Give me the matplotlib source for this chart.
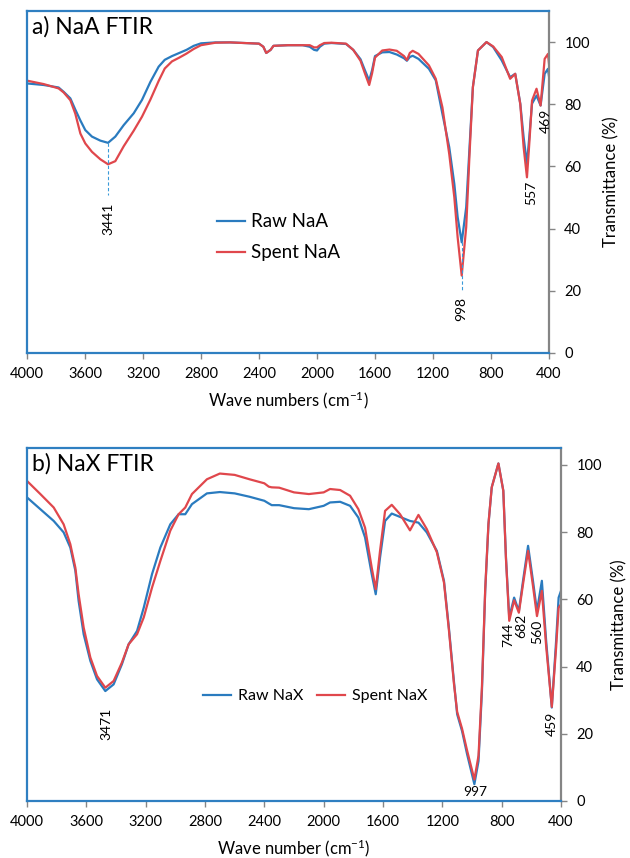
import matplotlib
matplotlib.use("Agg")
import matplotlib.pyplot as plt

plt.rcParams['font.family'] = ['Lato', 'DejaVu Sans']
plt.rcParams['mathtext.fontset'] = 'custom'
plt.rcParams['mathtext.rm'] = 'Lato'
plt.rcParams['mathtext.default'] = 'regular'

# ---- panel a : NaA ----
wn_a = [4000, 3885, 3782, 3747, 3701, 3667, 3632, 3598, 3552, 3494, 3441, 3391, 3333, 3264,
        3207, 3149, 3092, 3050, 3000, 2950, 2900, 2850, 2800, 2700, 2600, 2500, 2400, 2370,
        2350, 2320, 2300, 2200, 2100, 2050, 2020, 2000, 1980, 1950, 1900, 1800, 1750, 1700,
        1670, 1640, 1620, 1600, 1550, 1500, 1450, 1400, 1380, 1360, 1340, 1300, 1228, 1181,
        1135, 1088, 1053, 1030, 1002, 971, 948, 925, 890, 831, 785, 726, 668, 633, 598, 575,
        552, 535, 517, 486, 458, 430, 407, 400]
raw_a = [86.7, 86.2, 85.4, 84.0, 81.9, 78.3, 74.8, 71.7, 69.6, 68.3, 67.6, 69.6, 73.3, 77.1,
         81.4, 87.2, 92.1, 94.3, 95.5, 96.5, 97.5, 98.8, 99.6, 99.9, 99.9, 99.7, 99.5, 98.5,
         96.5, 97.5, 98.8, 99.0, 99.0, 98.5, 97.5, 97.3, 98.5, 99.5, 99.7, 99.4, 97.5, 94.5,
         91.0, 87.6, 91.0, 95.5, 96.7, 96.8, 96.0, 94.8, 94.0, 95.2, 95.6, 94.6, 91.4, 87.7,
         76.9, 66.2, 54.4, 43.7, 35.6, 46.9, 66.2, 85.5, 97.3, 100.0, 98.4, 94.1, 88.7, 89.8,
         80.2, 69.4, 60.8, 70.0, 80.2, 82.8, 79.6, 89.8, 91.4, 89.0]
spent_a = [87.6, 86.5, 85.1, 83.8, 81.3, 77.0, 70.6, 67.4, 64.7, 62.3, 60.7, 61.7, 66.5, 71.5,
           76.0, 81.5, 87.5, 91.5, 93.8, 95.0, 96.3, 97.8, 99.0, 99.8, 99.9, 99.7, 99.5, 98.5,
           96.5, 97.5, 98.8, 99.0, 99.0, 99.0, 98.3, 98.3, 99.0, 99.7, 99.8, 99.5, 97.5, 94.0,
           90.0, 86.2, 90.0, 95.0, 97.3, 97.6, 97.2, 95.5, 94.2, 96.5, 97.2, 96.2, 92.5, 88.2,
           79.0, 64.0, 50.1, 37.2, 24.9, 40.5, 64.0, 85.5, 97.3, 100.0, 98.6, 95.2, 88.2, 89.8,
           80.0, 66.2, 56.5, 68.0, 81.2, 85.0, 79.6, 94.6, 96.2, 93.0]

# peak labels (text, x, y)
peaks_a = [("3441", 3441, 43.0), ("998", 1002, 14.0), ("557", 524, 51.5), ("469", 425, 74.8)]
dash_a = [(3441, 67.6, 50.8), (1002, 35.6, 19.5)]

# ---- panel b : NaX ----
wn_b = [4000, 3910, 3820, 3753, 3708, 3674, 3652, 3618, 3573, 3528, 3472, 3416, 3360, 3315,
        3258, 3213, 3157, 3101, 3034, 2978, 2933, 2888, 2787, 2700, 2600, 2500,
        2400, 2370, 2350, 2300, 2200, 2100, 2000, 1957, 1889, 1822, 1766, 1721, 1676, 1649,
        1620, 1586, 1541, 1485, 1418, 1361, 1305, 1237, 1189, 1156, 1122, 1100, 1067, 1033,
        984, 956, 933, 911, 889, 867, 822, 789, 771, 749, 716, 684, 656, 622, 589, 562, 529,
        500, 462, 433, 416, 400]
raw_b = [90.3, 86.8, 83.3, 79.9, 75.4, 68.5, 59.5, 49.6, 41.7, 36.2, 32.7, 34.7, 40.7, 46.6,
         50.6, 57.5, 67.5, 75.4, 82.3, 85.3, 85.3, 88.3, 91.5, 91.9, 91.5, 90.5,
         89.3, 88.5, 88.0, 88.0, 87.1, 86.8, 87.8, 88.8, 89.0, 87.8, 84.3, 78.4, 67.5, 61.5,
         72.4, 83.3, 85.5, 84.5, 83.3, 82.8, 79.9, 74.4, 65.5, 51.6, 35.7, 25.8, 20.8, 13.9,
         5.0, 11.9, 32.7, 62.5, 82.3, 93.3, 100.4, 92.3, 72.4, 54.6, 60.5, 56.5, 65.5, 75.9,
         65.5, 56.5, 65.5, 47.6, 27.8, 47.6, 60.5, 62.5]
spent_b = [95.2, 91.3, 87.3, 82.3, 76.4, 69.4, 61.5, 51.6, 42.7, 37.2, 33.7, 35.7, 41.2, 46.6,
           49.6, 54.6, 63.5, 71.4, 80.4, 85.3, 87.3, 91.3, 95.7, 97.4, 97.0, 95.7,
           94.5, 93.5, 93.3, 93.2, 91.8, 91.3, 91.8, 92.8, 92.5, 90.8, 86.8, 81.3, 69.4, 63.0,
           74.4, 86.3, 88.1, 85.3, 80.5, 85.1, 80.9, 74.0, 65.0, 51.0, 35.0, 26.5, 21.5, 15.0,
           6.4, 13.5, 34.0, 63.0, 82.5, 93.3, 100.4, 92.3, 72.0, 53.6, 59.7, 56.0, 64.5, 74.4,
           64.0, 55.0, 62.5, 46.0, 28.0, 45.6, 57.5, 58.5]

peaks_b = [("3471", 3463, 23.0), ("744", 756, 49.4), ("682", 667, 52.0), ("560", 562, 50.4),
           ("459", 462, 22.8)]

xticks = [4000, 3600, 3200, 2800, 2400, 2000, 1600, 1200, 800, 400]
yticks = [0, 20, 40, 60, 80, 100]

BLUE = '#2a7bbf'
RED = '#e0474c'
FRAME = '#2f7fc1'
GREY = '#858585'


def style_axes(ax, ymax):
    ax.set_xlim(4000, 400)
    ax.set_ylim(0, ymax)
    ax.set_xticks(xticks)
    ax.set_yticks(yticks)
    ax.yaxis.tick_right()
    ax.yaxis.set_label_position('right')
    for s in ['left', 'top', 'bottom']:
        ax.spines[s].set_color(FRAME)
        ax.spines[s].set_linewidth(1.6)
    ax.spines['right'].set_color(GREY)
    ax.spines['right'].set_linewidth(1.6)
    ax.tick_params(axis='x', direction='out', length=4, width=1, color=GREY,
                   labelsize=10.5, pad=6)
    ax.tick_params(axis='y', direction='out', length=4, width=1, color=GREY,
                   labelsize=10.5, pad=7)


fig = plt.figure(figsize=(6.3, 8.58), dpi=100)

# panel a
ax1 = fig.add_axes([27/630, 1 - 353/858, 522/630, 342/858])
ax1.plot(wn_a, raw_a, color=BLUE, lw=1.6, label='Raw NaA', solid_joinstyle='round')
ax1.plot(wn_a, spent_a, color=RED, lw=1.6, label='Spent NaA', solid_joinstyle='round')
for x, y0, y1 in dash_a:
    ax1.plot([x, x], [y0, y1], color='#3a9ad9', lw=0.8, ls=(0, (3, 2)))
for t, x, y in peaks_a:
    ax1.text(x, y, t, rotation=90, ha='center', va='center', fontsize=10)
style_axes(ax1, 110)
ax1.text(0.01, 0.985, 'a) NaA FTIR', transform=ax1.transAxes, ha='left', va='top',
         fontsize=16.5)
ax1.set_xlabel('Wave numbers (cm$^{-1}$)', fontsize=12, labelpad=6)
ax1.set_ylabel('Transmittance (%)', fontsize=12, labelpad=10)
ax1.legend(loc='center left', bbox_to_anchor=(0.364, 0.338), frameon=False, fontsize=13.5,
           handlelength=1.5, handletextpad=0.3, labelspacing=0.75, borderpad=0,
           borderaxespad=0)

# panel b
ax2 = fig.add_axes([27/630, 1 - 801/858, 534/630, 353/858])
ax2.plot(wn_b, raw_b, color=BLUE, lw=1.6, label='Raw NaX', solid_joinstyle='round')
ax2.plot(wn_b, spent_b, color=RED, lw=1.6, label='Spent NaX', solid_joinstyle='round')
for t, x, y in peaks_b:
    ax2.text(x, y, t, rotation=90, ha='center', va='center', fontsize=10)
ax2.text(978, 2.6, '997', ha='center', va='center', fontsize=10)
style_axes(ax2, 105)
ax2.text(0.01, 0.985, 'b) NaX FTIR', transform=ax2.transAxes, ha='left', va='top',
         fontsize=16.5)
ax2.set_xlabel('Wave number (cm$^{-1}$)', fontsize=12, labelpad=6)
ax2.set_ylabel('Transmittance (%)', fontsize=12, labelpad=7)
ax2.legend(loc='center left', bbox_to_anchor=(0.33, 0.297), ncol=2, frameon=False,
           fontsize=11.5, handlelength=1.75, handletextpad=0.4, columnspacing=0.9,
           borderpad=0, borderaxespad=0)

fig.savefig('out.png', dpi=100)
